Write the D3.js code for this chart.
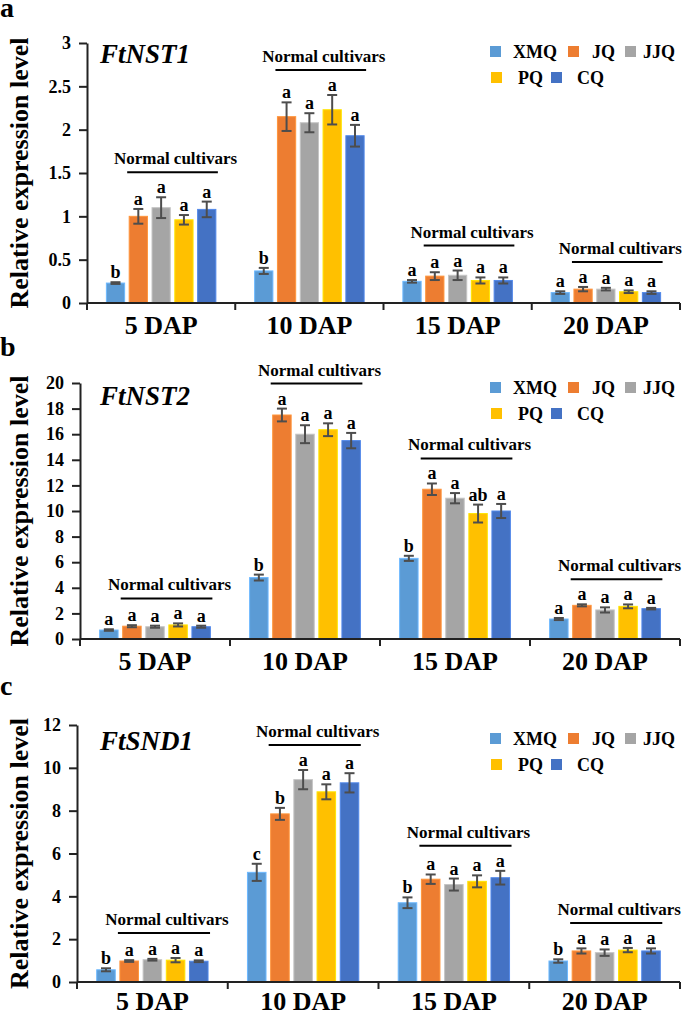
<!DOCTYPE html>
<html>
<head>
<meta charset="utf-8">
<title>FtNST1 FtNST2 FtSND1</title>
<script src="https://d3js.org/d3.v7.min.js"></script>
<style>
    body { margin: 0; background: #fff; }
    text { font-family: "Liberation Serif", "Times New Roman", serif; font-weight: bold; fill: #000; }
</style>
</head>
<body>
<svg width="685" height="1016" id="mainsvg"></svg>
<script>
    // data
    const cultivars = ['XMQ', 'JQ', 'JJQ', 'PQ', 'CQ'];
    const stages = ['5 DAP', '10 DAP', '15 DAP', '20 DAP'];
    const colors = ['#5B9BD5', '#ED7D31', '#A5A5A5', '#FFC000', '#4472C4'];
    const groupLabel = 'Normal cultivars';
    const yTitle = 'Relative expression level';

    const nst1Ticks = [0, 0.5, 1, 1.5, 2, 2.5, 3];
    const nst1Mean = [
        [0.23, 1.00, 1.10, 0.96, 1.08],
        [0.37, 2.15, 2.08, 2.23, 1.93],
        [0.25, 0.31, 0.32, 0.26, 0.26],
        [0.12, 0.16, 0.16, 0.13, 0.12]
    ];
    const nst1Err = [
        [0.01, 0.085, 0.12, 0.055, 0.09],
        [0.035, 0.165, 0.11, 0.17, 0.125],
        [0.015, 0.045, 0.055, 0.035, 0.035],
        [0.015, 0.025, 0.015, 0.015, 0.015]
    ];
    const nst1Sig = [
        ['b', 'a', 'a', 'a', 'a'],
        ['b', 'a', 'a', 'a', 'a'],
        ['a', 'a', 'a', 'a', 'a'],
        ['a', 'a', 'a', 'a', 'a']
    ];

    const nst2Ticks = [0, 2, 4, 6, 8, 10, 12, 14, 16, 18, 20];
    const nst2Mean = [
        [0.70, 1.00, 0.96, 1.10, 0.96],
        [4.8, 17.5, 16.0, 16.35, 15.5],
        [6.3, 11.7, 11.0, 9.8, 10.0],
        [1.56, 2.63, 2.27, 2.55, 2.37]
    ];
    const nst2Err = [
        [0.06, 0.08, 0.08, 0.12, 0.08],
        [0.23, 0.5, 0.7, 0.5, 0.6],
        [0.2, 0.45, 0.4, 0.7, 0.55],
        [0.08, 0.08, 0.2, 0.15, 0.06]
    ];
    const nst2Sig = [
        ['a', 'a', 'a', 'a', 'a'],
        ['b', 'a', 'a', 'a', 'a'],
        ['b', 'a', 'a', 'ab', 'a'],
        ['a', 'a', 'a', 'a', 'a']
    ];

    const snd1Ticks = [0, 2, 4, 6, 8, 10, 12];
    const snd1Mean = [
        [0.57, 0.98, 1.04, 1.02, 0.97],
        [5.12, 7.85, 9.45, 8.88, 9.3],
        [3.7, 4.8, 4.55, 4.7, 4.87],
        [0.98, 1.45, 1.37, 1.49, 1.45]
    ];
    const snd1Err = [
        [0.07, 0.04, 0.04, 0.1, 0.04],
        [0.4, 0.28, 0.45, 0.35, 0.45],
        [0.25, 0.22, 0.28, 0.28, 0.32],
        [0.08, 0.12, 0.15, 0.1, 0.12]
    ];
    const snd1Sig = [
        ['b', 'a', 'a', 'a', 'a'],
        ['c', 'b', 'a', 'a', 'a'],
        ['b', 'a', 'a', 'a', 'a'],
        ['b', 'a', 'a', 'a', 'a']
    ];

    // panel table built from the arrays above
    const panels = [
        { tag: 'a', gene: 'FtNST1', ticks: nst1Ticks, mean: nst1Mean, err: nst1Err, sig: nst1Sig,
          left: 87, top: 43, bottom: 303, tagY: 17, geneY: 63, legendY: 52 },
        { tag: 'b', gene: 'FtNST2', ticks: nst2Ticks, mean: nst2Mean, err: nst2Err, sig: nst2Sig,
          left: 80, top: 383, bottom: 639, tagY: 356, geneY: 405, legendY: 388 },
        { tag: 'c', gene: 'FtSND1', ticks: snd1Ticks, mean: snd1Mean, err: snd1Err, sig: snd1Sig,
          left: 77, top: 725, bottom: 982, tagY: 695, geneY: 750, legendY: 739 }
    ];
    const right = 680;

    // legend item placement (square x, text x, row)
    const legendPos = [[490, 513, 0], [568, 592, 0], [625, 643, 0], [491, 518, 1], [551, 577, 1]];

    const svg = d3.select('#mainsvg');
    const color = d3.scaleOrdinal().domain(cultivars).range(colors);

    panels.forEach(p => {
        const g = svg.append('g');

        const x = d3.scaleBand().domain(stages).range([p.left, right]);
        const xi = d3.scaleBand().domain(cultivars).range([0, x.bandwidth()])
            .paddingInner(0.2).paddingOuter(0.85);
        const y = d3.scaleLinear().domain([0, d3.max(p.ticks)]).range([p.bottom, p.top]);

        // y axis
        const yAxis = g.append('g')
            .attr('transform', `translate(${p.left},0)`)
            .call(d3.axisLeft(y).tickValues(p.ticks).tickFormat(d => d)
                .tickSize(8).tickSizeOuter(0).tickPadding(8));
        yAxis.select('.domain').attr('stroke', '#222').attr('stroke-width', 2);
        yAxis.selectAll('.tick line').attr('stroke', '#222').attr('stroke-width', 2);
        yAxis.selectAll('.tick text')
            .style('font-family', '"Liberation Serif", "Times New Roman", serif')
            .style('font-weight', 'bold').style('font-size', '18px').attr('fill', '#000');

        g.append('text')
            .attr('transform', `translate(28,${(p.top + p.bottom) / 2}) rotate(-90)`)
            .attr('text-anchor', 'middle')
            .style('font-size', '26px')
            .text(yTitle);

        // bars
        stages.forEach((st, si) => {
            const gg = g.append('g').attr('transform', `translate(${x(st)},0)`);
            const rows = cultivars.map((c, ci) => ({
                c: c, v: p.mean[si][ci], e: p.err[si][ci], s: p.sig[si][ci]
            }));

            gg.selectAll('rect.bar').data(rows).enter().append('rect')
                .attr('class', 'bar')
                .attr('x', d => xi(d.c))
                .attr('width', xi.bandwidth())
                .attr('y', d => y(d.v))
                .attr('height', d => y(0) - y(d.v))
                .attr('fill', d => color(d.c))
                .attr('stroke', d => d3.color(color(d.c)).brighter(0.5))
                .attr('stroke-width', 1);

            const eb = gg.selectAll('g.err').data(rows).enter().append('g')
                .attr('class', 'err')
                .attr('stroke', '#4d4d4d').attr('stroke-width', 2);
            const cx = d => xi(d.c) + xi.bandwidth() / 2;
            eb.append('line')
                .attr('x1', cx).attr('x2', cx)
                .attr('y1', d => y(d.v + d.e)).attr('y2', d => y(d.v - d.e));
            eb.append('line')
                .attr('x1', d => cx(d) - 5).attr('x2', d => cx(d) + 5)
                .attr('y1', d => y(d.v + d.e)).attr('y2', d => y(d.v + d.e));
            eb.append('line')
                .attr('x1', d => cx(d) - 5).attr('x2', d => cx(d) + 5)
                .attr('y1', d => y(d.v - d.e)).attr('y2', d => y(d.v - d.e));

            gg.selectAll('text.sig').data(rows).enter().append('text')
                .attr('class', 'sig')
                .attr('x', cx)
                .attr('y', d => y(d.v + d.e) - 4)
                .attr('text-anchor', 'middle')
                .style('font-size', '18px')
                .text(d => d.s);

            // "Normal cultivars" bracket over JQ..CQ
            const topVal = d3.max(rows, d => d.v + d.e);
            const ly = y(topVal) - 25;
            const x1 = xi('JQ') - 2, x2 = xi('CQ') + xi.bandwidth() + 2;
            gg.append('line')
                .attr('x1', x1).attr('x2', x2).attr('y1', ly).attr('y2', ly)
                .attr('stroke', '#000').attr('stroke-width', 2);
            gg.append('text')
                .attr('x', (x1 + x2) / 2 + 3).attr('y', ly - 8)
                .attr('text-anchor', 'middle')
                .style('font-size', '17px')
                .text(groupLabel);

            g.append('text')
                .attr('x', x(st) + x.bandwidth() / 2)
                .attr('y', Math.min(p.bottom + 31, 1010))
                .attr('text-anchor', 'middle')
                .style('font-size', '26px')
                .text(st);
        });

        // x axis line with group ticks
        g.append('line')
            .attr('x1', p.left).attr('x2', right).attr('y1', p.bottom).attr('y2', p.bottom)
            .attr('stroke', '#222').attr('stroke-width', 2);
        const bounds = stages.map(s => x(s)).concat([right]);
        g.selectAll('line.xt').data(bounds).enter().append('line')
            .attr('class', 'xt')
            .attr('x1', d => d).attr('x2', d => d)
            .attr('y1', p.bottom).attr('y2', p.bottom + 7)
            .attr('stroke', '#222').attr('stroke-width', 2);

        // panel tag and gene name
        g.append('text').attr('x', 0).attr('y', p.tagY)
            .style('font-size', '28px').text(p.tag);
        g.append('text').attr('x', 100).attr('y', p.geneY)
            .style('font-size', '27px').style('font-style', 'italic').text(p.gene);

        // legend
        const lg = g.selectAll('g.legend').data(cultivars).enter().append('g')
            .attr('class', 'legend')
            .attr('transform', (d, i) => `translate(0,${p.legendY + legendPos[i][2] * 26})`);
        lg.append('rect')
            .attr('x', (d, i) => legendPos[i][0]).attr('y', -6)
            .attr('width', 11).attr('height', 11)
            .attr('fill', d => color(d));
        lg.append('text')
            .attr('x', (d, i) => legendPos[i][1]).attr('y', 6)
            .style('font-size', '18px')
            .text(d => d);
    });
</script>
</body>
</html>
